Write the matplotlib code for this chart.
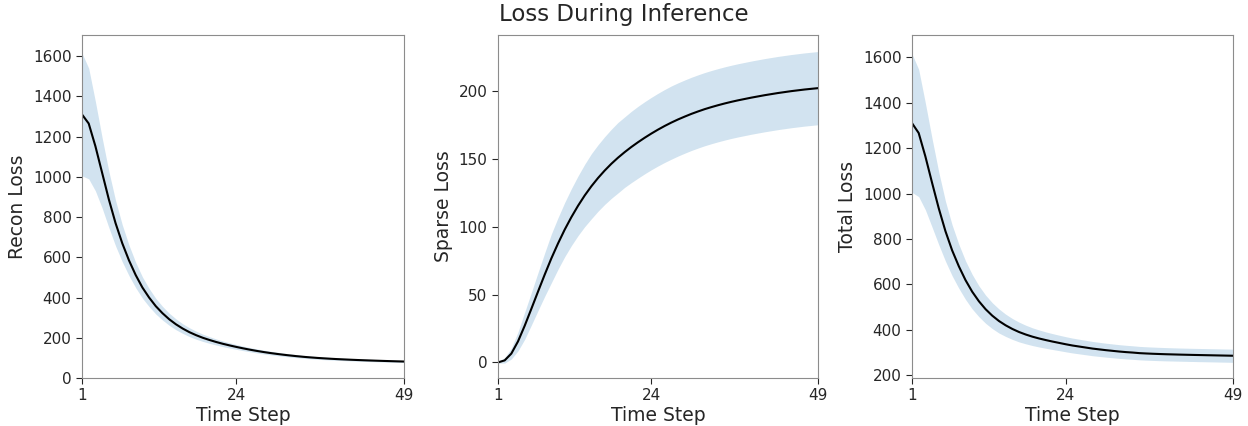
import numpy as np
import matplotlib
matplotlib.use("Agg")
import matplotlib.pyplot as plt

plt.rcParams["font.family"] = "DejaVu Sans"

# time steps of the inference loop
steps = np.arange(1, 50)

# mean / std of each loss
recon_mean = [1310, 1265, 1152, 1020, 888, 770, 670, 585, 512, 450,
              400, 357, 322, 292, 267, 246, 228, 213, 200, 189,
              179, 170, 162, 154.5, 147.5, 141, 135, 129.5, 124.5, 120,
              115.8, 112, 108.5, 105.3, 102.5, 100, 97.8, 95.8, 94, 92.4,
              90.9, 89.5, 88.2, 87, 85.9, 84.8, 83.8, 82.8, 81.9]
recon_std = [305, 275, 222, 175, 140, 113, 92, 76, 63, 53,
             45, 39, 34, 30, 27, 24, 22, 20, 18, 16.5,
             15, 14, 13, 12, 11.2, 10.5, 10, 9.5, 9, 8.5,
             8, 7.8, 7.5, 7.2, 7, 6.8, 6.6, 6.4, 6.2, 6,
             5.9, 5.8, 5.7, 5.6, 5.5, 5.4, 5.3, 5.2, 5.1]

sparse_mean = [0, 1.5, 6.5, 15.5, 27, 39.5, 52.2, 64.7, 76.7, 87.7,
               97.9, 107.1, 115.5, 123.1, 129.9, 136.0, 141.5, 146.5, 151.0, 155.1,
               158.9, 162.4, 165.7, 168.8, 171.7, 174.4, 176.9, 179.2, 181.3, 183.3,
               185.1, 186.8, 188.3, 189.7, 191.0, 192.2, 193.3, 194.3, 195.3, 196.2,
               197.1, 197.9, 198.7, 199.4, 200.1, 200.7, 201.3, 201.8, 202.3]
sparse_std = [0.5, 2, 4, 7, 10, 12, 14, 16, 18, 19,
              20, 21, 22, 23, 24, 24.5, 25, 25.5, 26, 26,
              26.3, 26.5, 26.6, 26.7, 26.8, 26.9, 27, 27, 27, 27,
              27, 27, 27, 27, 27, 27, 27, 27, 27, 27,
              27, 27, 27, 27, 27, 27, 27, 27, 27]

total_mean = [1310, 1266.5, 1163.5, 1047.5, 935, 834.5, 750, 680, 619, 568,
              526, 491, 462.5, 439, 420, 404, 390.5, 379.5, 370, 362,
              355, 348.5, 342.5, 336.5, 331, 326.5, 322, 317.5, 314, 310.5,
              307.5, 304.5, 302, 300, 297.5, 296, 294.7, 293.6, 292.6, 291.8,
              291, 290.3, 289.6, 289, 288.4, 287.8, 287.2, 286.6, 286]
total_std = [305, 280, 235, 195, 160, 132, 112, 97, 85, 76,
             68, 62, 57, 53, 49, 46, 43.5, 41, 39, 37.5,
             36, 35, 34, 33.3, 32.7, 32.2, 31.8, 31.4, 31, 30.7,
             30.4, 30.2, 30, 29.8, 29.6, 29.5, 29.4, 29.3, 29.2, 29.1,
             29, 29, 29, 29, 29, 29, 29, 29, 29]

xticks = [1, 24, 49]

panels = [
    ("Recon Loss", recon_mean, recon_std, (0, 1705), [0, 200, 400, 600, 800, 1000, 1200, 1400, 1600]),
    ("Sparse Loss", sparse_mean, sparse_std, (-11.5, 241.5), [0, 50, 100, 150, 200]),
    ("Total Loss", total_mean, total_std, (188, 1698), [200, 400, 600, 800, 1000, 1200, 1400, 1600]),
]

fig = plt.figure(figsize=(12.48, 4.26), dpi=100)
W, H = 1248, 426
boxes = [(82, 404), (498, 818), (912, 1233)]
top, bottom = 35, 378

for (label, mean, std, ylim, yticks), (x0, x1) in zip(panels, boxes):
    ax = fig.add_axes([x0 / W, 1 - bottom / H, (x1 - x0) / W, (bottom - top) / H])
    mean = np.array(mean, dtype=float)
    std = np.array(std, dtype=float)
    ax.fill_between(steps, mean - std, mean + std, color="C0", alpha=0.2, linewidth=0)
    ax.plot(steps, mean, color="black", linewidth=1.5)
    ax.set_xlim(1, 49)
    ax.set_ylim(*ylim)
    ax.set_xticks(xticks)
    ax.set_yticks(yticks)
    ax.set_xlabel("Time Step", fontsize=13.5, color="#262626", labelpad=2)
    ax.set_ylabel(label, fontsize=13.5, color="#262626")
    ax.tick_params(labelsize=11, colors="#262626", length=4)
    for s in ax.spines.values():
        s.set_color("#8c8c8c")

fig.text(0.5, 1 - 15 / H, "Loss During Inference", ha="center", va="center",
         fontsize=16.5, color="#262626")

fig.savefig("out.png", dpi=100)
